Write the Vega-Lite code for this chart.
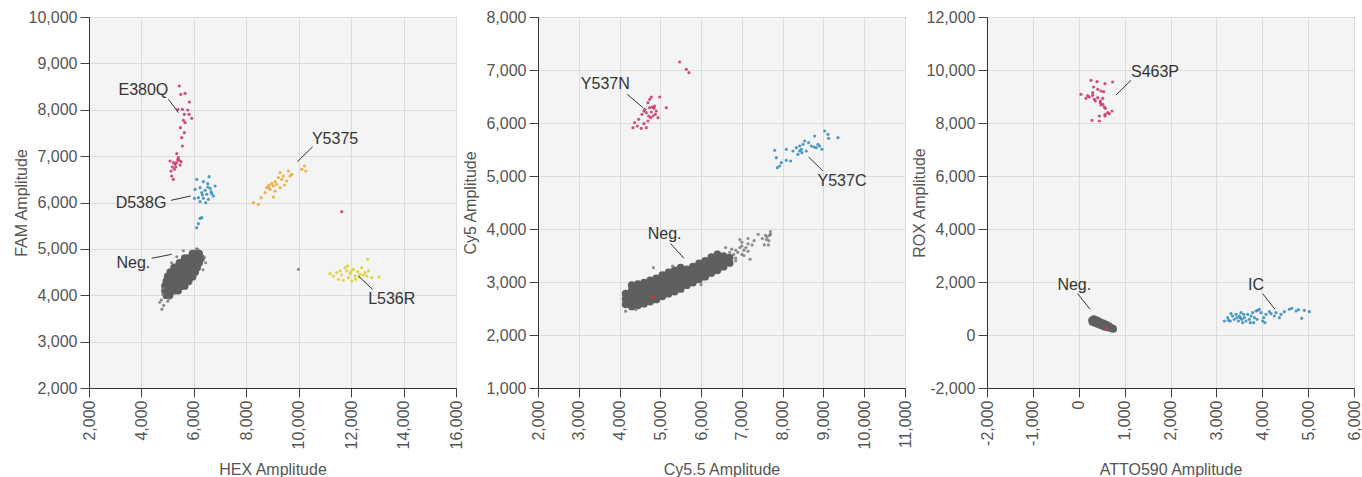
{
  "$schema": "https://vega.github.io/schema/vega-lite/v6.json",
  "background": "white",
  "padding": {"left": 12, "top": 8, "right": 0, "bottom": 0},
  "spacing": 82,
  "bounds": "flush",
  "datasets": {
    "p1": [
      {"x":4950,"y":4000,"g":"Neg"},{"x":5075,"y":4000,"g":"Neg"},
      {"x":4900,"y":4100,"g":"Neg"},{"x":5025,"y":4100,"g":"Neg"},{"x":5150,"y":4100,"g":"Neg"},{"x":5275,"y":4100,"g":"Neg"},{"x":5400,"y":4100,"g":"Neg"},
      {"x":4900,"y":4200,"g":"Neg"},{"x":5025,"y":4200,"g":"Neg"},{"x":5150,"y":4200,"g":"Neg"},{"x":5275,"y":4200,"g":"Neg"},{"x":5400,"y":4200,"g":"Neg"},{"x":5525,"y":4200,"g":"Neg"},{"x":5650,"y":4200,"g":"Neg"},
      {"x":4950,"y":4300,"g":"Neg"},{"x":5075,"y":4300,"g":"Neg"},{"x":5200,"y":4300,"g":"Neg"},{"x":5325,"y":4300,"g":"Neg"},{"x":5450,"y":4300,"g":"Neg"},{"x":5575,"y":4300,"g":"Neg"},{"x":5700,"y":4300,"g":"Neg"},{"x":5800,"y":4300,"g":"Neg"},
      {"x":5000,"y":4400,"g":"Neg"},{"x":5125,"y":4400,"g":"Neg"},{"x":5250,"y":4400,"g":"Neg"},{"x":5375,"y":4400,"g":"Neg"},{"x":5500,"y":4400,"g":"Neg"},{"x":5625,"y":4400,"g":"Neg"},{"x":5750,"y":4400,"g":"Neg"},{"x":5875,"y":4400,"g":"Neg"},{"x":5950,"y":4400,"g":"Neg"},
      {"x":5100,"y":4500,"g":"Neg"},{"x":5225,"y":4500,"g":"Neg"},{"x":5350,"y":4500,"g":"Neg"},{"x":5475,"y":4500,"g":"Neg"},{"x":5600,"y":4500,"g":"Neg"},{"x":5725,"y":4500,"g":"Neg"},{"x":5850,"y":4500,"g":"Neg"},{"x":5975,"y":4500,"g":"Neg"},{"x":6050,"y":4500,"g":"Neg"},
      {"x":5250,"y":4600,"g":"Neg"},{"x":5375,"y":4600,"g":"Neg"},{"x":5500,"y":4600,"g":"Neg"},{"x":5625,"y":4600,"g":"Neg"},{"x":5750,"y":4600,"g":"Neg"},{"x":5875,"y":4600,"g":"Neg"},{"x":6000,"y":4600,"g":"Neg"},{"x":6125,"y":4600,"g":"Neg"},
      {"x":5450,"y":4700,"g":"Neg"},{"x":5575,"y":4700,"g":"Neg"},{"x":5700,"y":4700,"g":"Neg"},{"x":5825,"y":4700,"g":"Neg"},{"x":5950,"y":4700,"g":"Neg"},{"x":6075,"y":4700,"g":"Neg"},{"x":6200,"y":4700,"g":"Neg"},
      {"x":5650,"y":4800,"g":"Neg"},{"x":5775,"y":4800,"g":"Neg"},{"x":5900,"y":4800,"g":"Neg"},{"x":6025,"y":4800,"g":"Neg"},{"x":6150,"y":4800,"g":"Neg"},{"x":6275,"y":4800,"g":"Neg"},
      {"x":5950,"y":4900,"g":"Neg"},{"x":6075,"y":4900,"g":"Neg"},{"x":6200,"y":4900,"g":"Neg"},
      {"x":4700,"y":3850,"g":"Drop"},{"x":4780,"y":3700,"g":"Drop"},{"x":4850,"y":3780,"g":"Drop"},{"x":5050,"y":3920,"g":"Drop"},{"x":6400,"y":4820,"g":"Drop"},{"x":6450,"y":4700,"g":"Drop"},{"x":5350,"y":4830,"g":"Drop"},{"x":5600,"y":4960,"g":"Drop"},{"x":6150,"y":4990,"g":"Drop"},{"x":4850,"y":4150,"g":"Drop"},{"x":4820,"y":4020,"g":"Drop"},{"x":5150,"y":4700,"g":"Drop"},{"x":6350,"y":4550,"g":"Drop"},{"x":6100,"y":5000,"g":"Drop"},{"x":4760,"y":3900,"g":"Drop"},{"x":5000,"y":3870,"g":"Drop"},{"x":9988,"y":4559,"g":"Drop"},
      {"x":5448,"y":8512,"g":"E380Q"},{"x":5499,"y":8332,"g":"E380Q"},{"x":5665,"y":8354,"g":"E380Q"},{"x":5830,"y":8167,"g":"E380Q"},{"x":5385,"y":8009,"g":"E380Q"},{"x":5563,"y":8009,"g":"E380Q"},{"x":5766,"y":7994,"g":"E380Q"},{"x":5639,"y":7901,"g":"E380Q"},{"x":5817,"y":7901,"g":"E380Q"},{"x":5919,"y":7815,"g":"E380Q"},{"x":5601,"y":7772,"g":"E380Q"},{"x":5665,"y":7721,"g":"E380Q"},{"x":5487,"y":7613,"g":"E380Q"},{"x":5639,"y":7506,"g":"E380Q"},{"x":5537,"y":7398,"g":"E380Q"},{"x":5563,"y":7218,"g":"E380Q"},{"x":5347,"y":7053,"g":"E380Q"},{"x":5436,"y":6909,"g":"E380Q"},{"x":5092,"y":6895,"g":"E380Q"},{"x":5219,"y":6859,"g":"E380Q"},{"x":5283,"y":6823,"g":"E380Q"},{"x":5385,"y":6923,"g":"E380Q"},{"x":5512,"y":6880,"g":"E380Q"},{"x":5181,"y":6765,"g":"E380Q"},{"x":5258,"y":6715,"g":"E380Q"},{"x":5309,"y":6765,"g":"E380Q"},{"x":5156,"y":6571,"g":"E380Q"},{"x":5219,"y":6499,"g":"E380Q"},{"x":5130,"y":6679,"g":"E380Q"},{"x":5410,"y":6967,"g":"E380Q"},{"x":5334,"y":6859,"g":"E380Q"},{"x":5474,"y":6808,"g":"E380Q"},{"x":11643,"y":5802,"g":"E380Q"},
      {"x":6110,"y":6499,"g":"D538G"},{"x":6581,"y":6557,"g":"D538G"},{"x":6364,"y":6449,"g":"D538G"},{"x":6530,"y":6406,"g":"D538G"},{"x":6809,"y":6356,"g":"D538G"},{"x":6046,"y":6284,"g":"D538G"},{"x":6237,"y":6320,"g":"D538G"},{"x":6428,"y":6262,"g":"D538G"},{"x":6619,"y":6305,"g":"D538G"},{"x":6301,"y":6212,"g":"D538G"},{"x":6492,"y":6176,"g":"D538G"},{"x":6682,"y":6190,"g":"D538G"},{"x":6173,"y":6104,"g":"D538G"},{"x":6364,"y":6090,"g":"D538G"},{"x":6555,"y":6068,"g":"D538G"},{"x":6746,"y":6140,"g":"D538G"},{"x":6021,"y":6090,"g":"D538G"},{"x":6237,"y":6018,"g":"D538G"},{"x":6453,"y":5996,"g":"D538G"},{"x":6301,"y":5673,"g":"D538G"},{"x":6237,"y":5658,"g":"D538G"},{"x":6173,"y":5543,"g":"D538G"},{"x":6110,"y":5457,"g":"D538G"},{"x":6657,"y":6233,"g":"D538G"},{"x":6530,"y":6334,"g":"D538G"},{"x":6326,"y":6161,"g":"D538G"},
      {"x":8272,"y":5996,"g":"Y5375"},{"x":8463,"y":5960,"g":"Y5375"},{"x":8565,"y":6104,"g":"Y5375"},{"x":8717,"y":6212,"g":"Y5375"},{"x":8781,"y":6320,"g":"Y5375"},{"x":8870,"y":6377,"g":"Y5375"},{"x":8972,"y":6406,"g":"Y5375"},{"x":9036,"y":6356,"g":"Y5375"},{"x":8908,"y":6284,"g":"Y5375"},{"x":9099,"y":6449,"g":"Y5375"},{"x":9226,"y":6535,"g":"Y5375"},{"x":9353,"y":6499,"g":"Y5375"},{"x":9163,"y":6391,"g":"Y5375"},{"x":9417,"y":6571,"g":"Y5375"},{"x":9290,"y":6643,"g":"Y5375"},{"x":9608,"y":6679,"g":"Y5375"},{"x":9672,"y":6571,"g":"Y5375"},{"x":9735,"y":6607,"g":"Y5375"},{"x":9544,"y":6463,"g":"Y5375"},{"x":10117,"y":6715,"g":"Y5375"},{"x":10218,"y":6787,"g":"Y5375"},{"x":10269,"y":6679,"g":"Y5375"},{"x":9099,"y":6248,"g":"Y5375"},{"x":9036,"y":6118,"g":"Y5375"},{"x":8845,"y":6334,"g":"Y5375"},{"x":9455,"y":6377,"g":"Y5375"},{"x":9290,"y":6320,"g":"Y5375"},
      {"x":11196,"y":4466,"g":"L536R"},{"x":11323,"y":4416,"g":"L536R"},{"x":11451,"y":4488,"g":"L536R"},{"x":11514,"y":4344,"g":"L536R"},{"x":11641,"y":4437,"g":"L536R"},{"x":11769,"y":4595,"g":"L536R"},{"x":11832,"y":4524,"g":"L536R"},{"x":11896,"y":4380,"g":"L536R"},{"x":11959,"y":4466,"g":"L536R"},{"x":12023,"y":4308,"g":"L536R"},{"x":12086,"y":4559,"g":"L536R"},{"x":12150,"y":4416,"g":"L536R"},{"x":12252,"y":4509,"g":"L536R"},{"x":12341,"y":4452,"g":"L536R"},{"x":12404,"y":4595,"g":"L536R"},{"x":12532,"y":4488,"g":"L536R"},{"x":12595,"y":4416,"g":"L536R"},{"x":12659,"y":4524,"g":"L536R"},{"x":12634,"y":4775,"g":"L536R"},{"x":12786,"y":4380,"g":"L536R"},{"x":13066,"y":4394,"g":"L536R"},{"x":11578,"y":4524,"g":"L536R"},{"x":11705,"y":4322,"g":"L536R"},{"x":11997,"y":4509,"g":"L536R"},{"x":12175,"y":4344,"g":"L536R"},{"x":11870,"y":4631,"g":"L536R"},{"x":12303,"y":4394,"g":"L536R"},{"x":12468,"y":4437,"g":"L536R"}
    ],
    "p2": [
      {"x":4150,"y":2580,"g":"Neg"},{"x":4150,"y":2680,"g":"Neg"},{"x":4150,"y":2780,"g":"Neg"},
      {"x":4300,"y":2540,"g":"Neg"},{"x":4300,"y":2640,"g":"Neg"},{"x":4300,"y":2740,"g":"Neg"},{"x":4300,"y":2840,"g":"Neg"},{"x":4300,"y":2940,"g":"Neg"},
      {"x":4450,"y":2560,"g":"Neg"},{"x":4450,"y":2660,"g":"Neg"},{"x":4450,"y":2760,"g":"Neg"},{"x":4450,"y":2860,"g":"Neg"},{"x":4450,"y":2960,"g":"Neg"},
      {"x":4600,"y":2590,"g":"Neg"},{"x":4600,"y":2690,"g":"Neg"},{"x":4600,"y":2790,"g":"Neg"},{"x":4600,"y":2890,"g":"Neg"},{"x":4600,"y":2990,"g":"Neg"},
      {"x":4750,"y":2630,"g":"Neg"},{"x":4750,"y":2730,"g":"Neg"},{"x":4750,"y":2830,"g":"Neg"},{"x":4750,"y":2930,"g":"Neg"},{"x":4750,"y":3030,"g":"Neg"},
      {"x":4900,"y":2670,"g":"Neg"},{"x":4900,"y":2770,"g":"Neg"},{"x":4900,"y":2870,"g":"Neg"},{"x":4900,"y":2970,"g":"Neg"},{"x":4900,"y":3070,"g":"Neg"},
      {"x":5050,"y":2730,"g":"Neg"},{"x":5050,"y":2830,"g":"Neg"},{"x":5050,"y":2930,"g":"Neg"},{"x":5050,"y":3030,"g":"Neg"},{"x":5050,"y":3130,"g":"Neg"},
      {"x":5200,"y":2780,"g":"Neg"},{"x":5200,"y":2880,"g":"Neg"},{"x":5200,"y":2980,"g":"Neg"},{"x":5200,"y":3080,"g":"Neg"},{"x":5200,"y":3180,"g":"Neg"},
      {"x":5350,"y":2820,"g":"Neg"},{"x":5350,"y":2920,"g":"Neg"},{"x":5350,"y":3020,"g":"Neg"},{"x":5350,"y":3120,"g":"Neg"},{"x":5350,"y":3220,"g":"Neg"},
      {"x":5500,"y":2870,"g":"Neg"},{"x":5500,"y":2970,"g":"Neg"},{"x":5500,"y":3070,"g":"Neg"},{"x":5500,"y":3170,"g":"Neg"},{"x":5500,"y":3270,"g":"Neg"},
      {"x":5650,"y":2940,"g":"Neg"},{"x":5650,"y":3040,"g":"Neg"},{"x":5650,"y":3140,"g":"Neg"},{"x":5650,"y":3240,"g":"Neg"},
      {"x":5800,"y":2990,"g":"Neg"},{"x":5800,"y":3090,"g":"Neg"},{"x":5800,"y":3190,"g":"Neg"},{"x":5800,"y":3290,"g":"Neg"},
      {"x":5950,"y":3050,"g":"Neg"},{"x":5950,"y":3150,"g":"Neg"},{"x":5950,"y":3250,"g":"Neg"},{"x":5950,"y":3350,"g":"Neg"},
      {"x":6100,"y":3100,"g":"Neg"},{"x":6100,"y":3200,"g":"Neg"},{"x":6100,"y":3300,"g":"Neg"},{"x":6100,"y":3400,"g":"Neg"},
      {"x":6250,"y":3170,"g":"Neg"},{"x":6250,"y":3270,"g":"Neg"},{"x":6250,"y":3370,"g":"Neg"},{"x":6250,"y":3470,"g":"Neg"},
      {"x":6400,"y":3220,"g":"Neg"},{"x":6400,"y":3320,"g":"Neg"},{"x":6400,"y":3420,"g":"Neg"},{"x":6400,"y":3520,"g":"Neg"},
      {"x":6550,"y":3290,"g":"Neg"},{"x":6550,"y":3390,"g":"Neg"},{"x":6550,"y":3490,"g":"Neg"},
      {"x":6700,"y":3360,"g":"Neg"},{"x":6700,"y":3460,"g":"Neg"},
      {"x":6850,"y":3450,"g":"Drop"},{"x":6850,"y":3600,"g":"Drop"},{"x":7000,"y":3520,"g":"Drop"},{"x":7000,"y":3680,"g":"Drop"},{"x":7150,"y":3580,"g":"Drop"},{"x":7150,"y":3720,"g":"Drop"},{"x":7600,"y":3800,"g":"Drop"},{"x":7680,"y":3880,"g":"Drop"},
      {"x":6800,"y":3520,"g":"Drop"},{"x":6900,"y":3560,"g":"Drop"},{"x":7050,"y":3600,"g":"Drop"},{"x":7100,"y":3650,"g":"Drop"},{"x":7250,"y":3700,"g":"Drop"},{"x":7000,"y":3750,"g":"Drop"},{"x":6750,"y":3620,"g":"Drop"},{"x":7620,"y":3850,"g":"Drop"},{"x":7660,"y":3780,"g":"Drop"},{"x":7700,"y":3900,"g":"Drop"},{"x":7580,"y":3880,"g":"Drop"},{"x":7500,"y":3820,"g":"Drop"},{"x":6850,"y":3400,"g":"Drop"},{"x":7050,"y":3500,"g":"Drop"},{"x":6700,"y":3560,"g":"Drop"},{"x":6950,"y":3650,"g":"Drop"},
      {"x":4150,"y":2450,"g":"Drop"},{"x":4830,"y":3270,"g":"Drop"},{"x":6000,"y":2950,"g":"Drop"},{"x":7200,"y":3430,"g":"Drop"},{"x":7400,"y":3900,"g":"Drop"},{"x":7650,"y":3700,"g":"Drop"},{"x":6950,"y":3800,"g":"Drop"},{"x":6600,"y":3650,"g":"Drop"},{"x":4400,"y":2480,"g":"Drop"},{"x":5300,"y":3300,"g":"Drop"},{"x":7300,"y":3780,"g":"Drop"},{"x":7150,"y":3820,"g":"Drop"},{"x":7550,"y":3700,"g":"Drop"},{"x":7700,"y":3950,"g":"Drop"},
      {"x":4830,"y":2710,"g":"Other"},
      {"x":4329,"y":5912,"g":"Y537N"},{"x":4435,"y":5944,"g":"Y537N"},{"x":4533,"y":5900,"g":"Y537N"},{"x":4656,"y":5912,"g":"Y537N"},{"x":4370,"y":6006,"g":"Y537N"},{"x":4468,"y":6069,"g":"Y537N"},{"x":4599,"y":5988,"g":"Y537N"},{"x":4697,"y":6038,"g":"Y537N"},{"x":4762,"y":6101,"g":"Y537N"},{"x":4819,"y":6132,"g":"Y537N"},{"x":4877,"y":6164,"g":"Y537N"},{"x":4615,"y":6258,"g":"Y537N"},{"x":4738,"y":6290,"g":"Y537N"},{"x":4803,"y":6302,"g":"Y537N"},{"x":4844,"y":6277,"g":"Y537N"},{"x":4901,"y":6227,"g":"Y537N"},{"x":4656,"y":6195,"g":"Y537N"},{"x":4778,"y":6208,"g":"Y537N"},{"x":4713,"y":6132,"g":"Y537N"},{"x":4942,"y":6101,"g":"Y537N"},{"x":4550,"y":6164,"g":"Y537N"},{"x":4778,"y":6491,"g":"Y537N"},{"x":4983,"y":6491,"g":"Y537N"},{"x":5146,"y":6290,"g":"Y537N"},{"x":4697,"y":6384,"g":"Y537N"},{"x":4599,"y":6227,"g":"Y537N"},{"x":4860,"y":6321,"g":"Y537N"},{"x":4738,"y":6447,"g":"Y537N"},{"x":5473,"y":7151,"g":"Y537N"},{"x":5637,"y":7013,"g":"Y537N"},{"x":5702,"y":6950,"g":"Y537N"},
      {"x":7803,"y":5484,"g":"Y537C"},{"x":7844,"y":5346,"g":"Y537C"},{"x":7869,"y":5157,"g":"Y537C"},{"x":7925,"y":5189,"g":"Y537C"},{"x":7966,"y":5252,"g":"Y537C"},{"x":8089,"y":5296,"g":"Y537C"},{"x":8089,"y":5503,"g":"Y537C"},{"x":8195,"y":5283,"g":"Y537C"},{"x":8334,"y":5535,"g":"Y537C"},{"x":8375,"y":5409,"g":"Y537C"},{"x":8416,"y":5472,"g":"Y537C"},{"x":8457,"y":5503,"g":"Y537C"},{"x":8473,"y":5440,"g":"Y537C"},{"x":8498,"y":5598,"g":"Y537C"},{"x":8538,"y":5661,"g":"Y537C"},{"x":8579,"y":5472,"g":"Y537C"},{"x":8636,"y":5629,"g":"Y537C"},{"x":8701,"y":5566,"g":"Y537C"},{"x":8783,"y":5755,"g":"Y537C"},{"x":8824,"y":5535,"g":"Y537C"},{"x":8865,"y":5598,"g":"Y537C"},{"x":8906,"y":5566,"g":"Y537C"},{"x":8963,"y":5503,"g":"Y537C"},{"x":9029,"y":5849,"g":"Y537C"},{"x":9111,"y":5786,"g":"Y537C"},{"x":9127,"y":5711,"g":"Y537C"},{"x":9356,"y":5724,"g":"Y537C"},{"x":8767,"y":5547,"g":"Y537C"},{"x":8416,"y":5566,"g":"Y537C"},{"x":8252,"y":5472,"g":"Y537C"}
    ],
    "p3": [
      {"x":280,"y":560,"g":"Neg"},{"x":290,"y":480,"g":"Neg"},{"x":330,"y":620,"g":"Neg"},{"x":340,"y":520,"g":"Neg"},{"x":350,"y":440,"g":"Neg"},{"x":380,"y":580,"g":"Neg"},{"x":400,"y":480,"g":"Neg"},{"x":410,"y":400,"g":"Neg"},{"x":430,"y":540,"g":"Neg"},{"x":450,"y":440,"g":"Neg"},{"x":470,"y":360,"g":"Neg"},{"x":480,"y":500,"g":"Neg"},{"x":500,"y":410,"g":"Neg"},{"x":520,"y":330,"g":"Neg"},{"x":540,"y":460,"g":"Neg"},{"x":560,"y":360,"g":"Neg"},{"x":580,"y":290,"g":"Neg"},{"x":600,"y":410,"g":"Neg"},{"x":620,"y":320,"g":"Neg"},{"x":640,"y":260,"g":"Neg"},{"x":660,"y":350,"g":"Neg"},{"x":690,"y":280,"g":"Neg"},{"x":720,"y":230,"g":"Neg"},{"x":750,"y":260,"g":"Neg"},{"x":760,"y":220,"g":"Neg"},{"x":310,"y":600,"g":"Neg"},{"x":370,"y":530,"g":"Neg"},{"x":440,"y":490,"g":"Neg"},{"x":510,"y":380,"g":"Neg"},{"x":570,"y":330,"g":"Neg"},{"x":630,"y":300,"g":"Neg"},{"x":700,"y":300,"g":"Neg"},{"x":360,"y":480,"g":"Neg"},{"x":460,"y":400,"g":"Neg"},{"x":550,"y":300,"g":"Neg"},
      {"x":600,"y":250,"g":"Other"},
      {"x":49,"y":9082,"g":"S463P"},{"x":158,"y":8931,"g":"S463P"},{"x":267,"y":9610,"g":"S463P"},{"x":398,"y":9560,"g":"S463P"},{"x":572,"y":9484,"g":"S463P"},{"x":739,"y":9547,"g":"S463P"},{"x":231,"y":8981,"g":"S463P"},{"x":304,"y":9044,"g":"S463P"},{"x":340,"y":8893,"g":"S463P"},{"x":413,"y":8956,"g":"S463P"},{"x":471,"y":8830,"g":"S463P"},{"x":522,"y":8931,"g":"S463P"},{"x":304,"y":9145,"g":"S463P"},{"x":194,"y":9032,"g":"S463P"},{"x":471,"y":8767,"g":"S463P"},{"x":522,"y":8705,"g":"S463P"},{"x":558,"y":8604,"g":"S463P"},{"x":580,"y":8554,"g":"S463P"},{"x":485,"y":9208,"g":"S463P"},{"x":543,"y":9183,"g":"S463P"},{"x":413,"y":9271,"g":"S463P"},{"x":325,"y":9359,"g":"S463P"},{"x":630,"y":8390,"g":"S463P"},{"x":572,"y":8264,"g":"S463P"},{"x":667,"y":8352,"g":"S463P"},{"x":725,"y":8453,"g":"S463P"},{"x":449,"y":8264,"g":"S463P"},{"x":289,"y":8101,"g":"S463P"},{"x":449,"y":8076,"g":"S463P"},{"x":572,"y":8327,"g":"S463P"},{"x":362,"y":8830,"g":"S463P"},{"x":485,"y":8679,"g":"S463P"},
      {"x":3246,"y":654,"g":"IC"},{"x":3261,"y":553,"g":"IC"},{"x":3319,"y":805,"g":"IC"},{"x":3355,"y":717,"g":"IC"},{"x":3392,"y":591,"g":"IC"},{"x":3428,"y":780,"g":"IC"},{"x":3450,"y":654,"g":"IC"},{"x":3479,"y":528,"g":"IC"},{"x":3501,"y":717,"g":"IC"},{"x":3537,"y":843,"g":"IC"},{"x":3552,"y":591,"g":"IC"},{"x":3573,"y":465,"g":"IC"},{"x":3610,"y":654,"g":"IC"},{"x":3646,"y":528,"g":"IC"},{"x":3682,"y":780,"g":"IC"},{"x":3719,"y":591,"g":"IC"},{"x":3755,"y":717,"g":"IC"},{"x":3791,"y":843,"g":"IC"},{"x":3813,"y":465,"g":"IC"},{"x":3828,"y":654,"g":"IC"},{"x":3864,"y":906,"g":"IC"},{"x":3900,"y":931,"g":"IC"},{"x":3937,"y":968,"g":"IC"},{"x":3973,"y":843,"g":"IC"},{"x":4009,"y":528,"g":"IC"},{"x":4031,"y":654,"g":"IC"},{"x":4082,"y":780,"g":"IC"},{"x":4155,"y":880,"g":"IC"},{"x":4191,"y":805,"g":"IC"},{"x":4264,"y":717,"g":"IC"},{"x":4300,"y":843,"g":"IC"},{"x":4373,"y":654,"g":"IC"},{"x":4409,"y":780,"g":"IC"},{"x":4482,"y":880,"g":"IC"},{"x":4591,"y":968,"g":"IC"},{"x":4642,"y":1006,"g":"IC"},{"x":4736,"y":906,"g":"IC"},{"x":4787,"y":956,"g":"IC"},{"x":4860,"y":629,"g":"IC"},{"x":4918,"y":931,"g":"IC"},{"x":5027,"y":880,"g":"IC"},{"x":3174,"y":528,"g":"IC"},{"x":3304,"y":528,"g":"IC"},{"x":3522,"y":654,"g":"IC"},{"x":3595,"y":780,"g":"IC"},{"x":3740,"y":465,"g":"IC"},{"x":3886,"y":591,"g":"IC"},{"x":4060,"y":465,"g":"IC"}
    ],
    "a1": [
      {"t":"E380Q","tx":4075,"ty":8419,"x1":5029,"y1":8225,"x2":5411,"y2":7937},
      {"t":"Y5375","tx":11386,"ty":7363,"x1":10535,"y1":7204,"x2":9951,"y2":6880},
      {"t":"D538G","tx":3984,"ty":5983,"x1":5129,"y1":6047,"x2":5880,"y2":6140},
      {"t":"Neg.","tx":3694,"ty":4702,"x1":4392,"y1":4797,"x2":5155,"y2":4883},
      {"t":"L536R","tx":13549,"ty":3913,"x1":12813,"y1":4128,"x2":12278,"y2":4415}
    ],
    "a2": [
      {"t":"Y537N","tx":3650,"ty":6730,"x1":4190,"y1":6541,"x2":4575,"y2":6289},
      {"t":"Y537C","tx":9455,"ty":4906,"x1":8989,"y1":5094,"x2":8636,"y2":5358},
      {"t":"Neg.","tx":5105,"ty":3911,"x1":5251,"y1":3723,"x2":5580,"y2":3447}
    ],
    "a3": [
      {"t":"S463P","tx":1662,"ty":9925,"x1":1139,"y1":9611,"x2":812,"y2":9057},
      {"t":"Neg.","tx":-97,"ty":1887,"x1":-23,"y1":1559,"x2":246,"y2":970},
      {"t":"IC","tx":3864,"ty":1887,"x1":4010,"y1":1559,"x2":4278,"y2":970}
    ]
  },
  "hconcat": [
    {
      "width": 367,
      "height": 371,
      "layer": [
        {
          "data": {"name": "p1"},
          "transform": [{"filter": "datum.g === 'Neg'"}],
          "mark": {"type": "point", "filled": true, "size": 60, "opacity": 1, "color": "#5f5f5f", "strokeWidth": 0},
          "encoding": {
            "x": {"field": "x", "type": "quantitative", "title": "HEX Amplitude", "scale": {"domain": [2000, 16000], "nice": false, "zero": false}, "axis": {"values": [2000, 4000, 6000, 8000, 10000, 12000, 14000, 16000]}},
            "y": {"field": "y", "type": "quantitative", "title": "FAM Amplitude", "scale": {"domain": [2000, 10000], "nice": false, "zero": false}, "axis": {"values": [2000, 3000, 4000, 5000, 6000, 7000, 8000, 9000, 10000]}}
          }
        },
        {
          "data": {"name": "p1"},
          "transform": [{"filter": "datum.g !== 'Neg'"}],
          "mark": {"type": "point", "filled": true, "size": 10, "opacity": 0.85, "strokeWidth": 0},
          "encoding": {
            "x": {"field": "x", "type": "quantitative", "title": "HEX Amplitude"},
            "y": {"field": "y", "type": "quantitative", "title": "FAM Amplitude"},
            "color": {"field": "g", "type": "nominal", "legend": null, "scale": {"domain": ["E380Q", "D538G", "Y5375", "L536R", "Y537N", "Y537C", "S463P", "IC", "Other", "Drop"], "range": ["#c9306b", "#2e8bbd", "#e9a72a", "#d8cf2c", "#c9306b", "#2e8bbd", "#c9306b", "#2e8bbd", "#e0323a", "#7a7a7a"]}}
          }
        },
        {
          "data": {"name": "a1"},
          "mark": {"type": "rule", "color": "#333333", "strokeWidth": 1},
          "encoding": {
            "x": {"field": "x1", "type": "quantitative", "title": "HEX Amplitude"},
            "y": {"field": "y1", "type": "quantitative", "title": "FAM Amplitude"},
            "x2": {"field": "x2"},
            "y2": {"field": "y2"}
          }
        },
        {
          "data": {"name": "a1"},
          "mark": {"type": "text", "font": "Liberation Sans", "fontSize": 16, "color": "#333333", "align": "center", "baseline": "middle"},
          "encoding": {
            "x": {"field": "tx", "type": "quantitative", "title": "HEX Amplitude"},
            "y": {"field": "ty", "type": "quantitative", "title": "FAM Amplitude"},
            "text": {"field": "t"}
          }
        }
      ]
    },
    {
      "width": 367,
      "height": 371,
      "layer": [
        {
          "data": {"name": "p2"},
          "transform": [{"filter": "datum.g === 'Neg'"}],
          "mark": {"type": "point", "filled": true, "size": 60, "opacity": 1, "color": "#5f5f5f", "strokeWidth": 0},
          "encoding": {
            "x": {"field": "x", "type": "quantitative", "title": "Cy5.5 Amplitude", "scale": {"domain": [2000, 11000], "nice": false, "zero": false}, "axis": {"values": [2000, 3000, 4000, 5000, 6000, 7000, 8000, 9000, 10000, 11000]}},
            "y": {"field": "y", "type": "quantitative", "title": "Cy5 Amplitude", "scale": {"domain": [1000, 8000], "nice": false, "zero": false}, "axis": {"values": [1000, 2000, 3000, 4000, 5000, 6000, 7000, 8000]}}
          }
        },
        {
          "data": {"name": "p2"},
          "transform": [{"filter": "datum.g !== 'Neg'"}],
          "mark": {"type": "point", "filled": true, "size": 10, "opacity": 0.85, "strokeWidth": 0},
          "encoding": {
            "x": {"field": "x", "type": "quantitative", "title": "Cy5.5 Amplitude"},
            "y": {"field": "y", "type": "quantitative", "title": "Cy5 Amplitude"},
            "color": {"field": "g", "type": "nominal", "legend": null, "scale": {"domain": ["E380Q", "D538G", "Y5375", "L536R", "Y537N", "Y537C", "S463P", "IC", "Other", "Drop"], "range": ["#c9306b", "#2e8bbd", "#e9a72a", "#d8cf2c", "#c9306b", "#2e8bbd", "#c9306b", "#2e8bbd", "#e0323a", "#7a7a7a"]}}
          }
        },
        {
          "data": {"name": "a2"},
          "mark": {"type": "rule", "color": "#333333", "strokeWidth": 1},
          "encoding": {
            "x": {"field": "x1", "type": "quantitative", "title": "Cy5.5 Amplitude"},
            "y": {"field": "y1", "type": "quantitative", "title": "Cy5 Amplitude"},
            "x2": {"field": "x2"},
            "y2": {"field": "y2"}
          }
        },
        {
          "data": {"name": "a2"},
          "mark": {"type": "text", "font": "Liberation Sans", "fontSize": 16, "color": "#333333", "align": "center", "baseline": "middle"},
          "encoding": {
            "x": {"field": "tx", "type": "quantitative", "title": "Cy5.5 Amplitude"},
            "y": {"field": "ty", "type": "quantitative", "title": "Cy5 Amplitude"},
            "text": {"field": "t"}
          }
        }
      ]
    },
    {
      "width": 367,
      "height": 371,
      "layer": [
        {
          "data": {"name": "p3"},
          "transform": [{"filter": "datum.g === 'Neg'"}],
          "mark": {"type": "point", "filled": true, "size": 45, "opacity": 1, "color": "#5f5f5f", "strokeWidth": 0},
          "encoding": {
            "x": {"field": "x", "type": "quantitative", "title": "ATTO590 Amplitude", "scale": {"domain": [-2000, 6000], "nice": false, "zero": false}, "axis": {"values": [-2000, -1000, 0, 1000, 2000, 3000, 4000, 5000, 6000]}},
            "y": {"field": "y", "type": "quantitative", "title": "ROX Amplitude", "scale": {"domain": [-2000, 12000], "nice": false, "zero": false}, "axis": {"values": [-2000, 0, 2000, 4000, 6000, 8000, 10000, 12000]}}
          }
        },
        {
          "data": {"name": "p3"},
          "transform": [{"filter": "datum.g !== 'Neg'"}],
          "mark": {"type": "point", "filled": true, "size": 10, "opacity": 0.85, "strokeWidth": 0},
          "encoding": {
            "x": {"field": "x", "type": "quantitative", "title": "ATTO590 Amplitude"},
            "y": {"field": "y", "type": "quantitative", "title": "ROX Amplitude"},
            "color": {"field": "g", "type": "nominal", "legend": null, "scale": {"domain": ["E380Q", "D538G", "Y5375", "L536R", "Y537N", "Y537C", "S463P", "IC", "Other", "Drop"], "range": ["#c9306b", "#2e8bbd", "#e9a72a", "#d8cf2c", "#c9306b", "#2e8bbd", "#c9306b", "#2e8bbd", "#e0323a", "#7a7a7a"]}}
          }
        },
        {
          "data": {"name": "a3"},
          "mark": {"type": "rule", "color": "#333333", "strokeWidth": 1},
          "encoding": {
            "x": {"field": "x1", "type": "quantitative", "title": "ATTO590 Amplitude"},
            "y": {"field": "y1", "type": "quantitative", "title": "ROX Amplitude"},
            "x2": {"field": "x2"},
            "y2": {"field": "y2"}
          }
        },
        {
          "data": {"name": "a3"},
          "mark": {"type": "text", "font": "Liberation Sans", "fontSize": 16, "color": "#333333", "align": "center", "baseline": "middle"},
          "encoding": {
            "x": {"field": "tx", "type": "quantitative", "title": "ATTO590 Amplitude"},
            "y": {"field": "ty", "type": "quantitative", "title": "ROX Amplitude"},
            "text": {"field": "t"}
          }
        }
      ]
    }
  ],
  "config": {
    "view": {"fill": "#f4f4f4", "stroke": "#333333", "strokeWidth": 1},
    "axis": {
      "grid": true,
      "gridColor": "#dcdcdc",
      "gridWidth": 1,
      "domainColor": "#333333",
      "tickColor": "#444444",
      "tickSize": 9,
      "labelFont": "Liberation Sans",
      "labelFontSize": 16,
      "labelColor": "#555555",
      "labelPadding": 3,
      "labelFlush": false,
      "labelOverlap": false,
      "labelExpr": "replace(format(datum.value, ','), '\u2212', '-')",
      "titleFont": "Liberation Sans",
      "titleFontSize": 16,
      "titleFontWeight": "normal",
      "titleColor": "#555555"
    },
    "axisX": {"labelAngle": -90, "titleY": 81, "titleBaseline": "middle"},
    "axisY": {"titleX": -68, "titleBaseline": "middle"}
  }
}
